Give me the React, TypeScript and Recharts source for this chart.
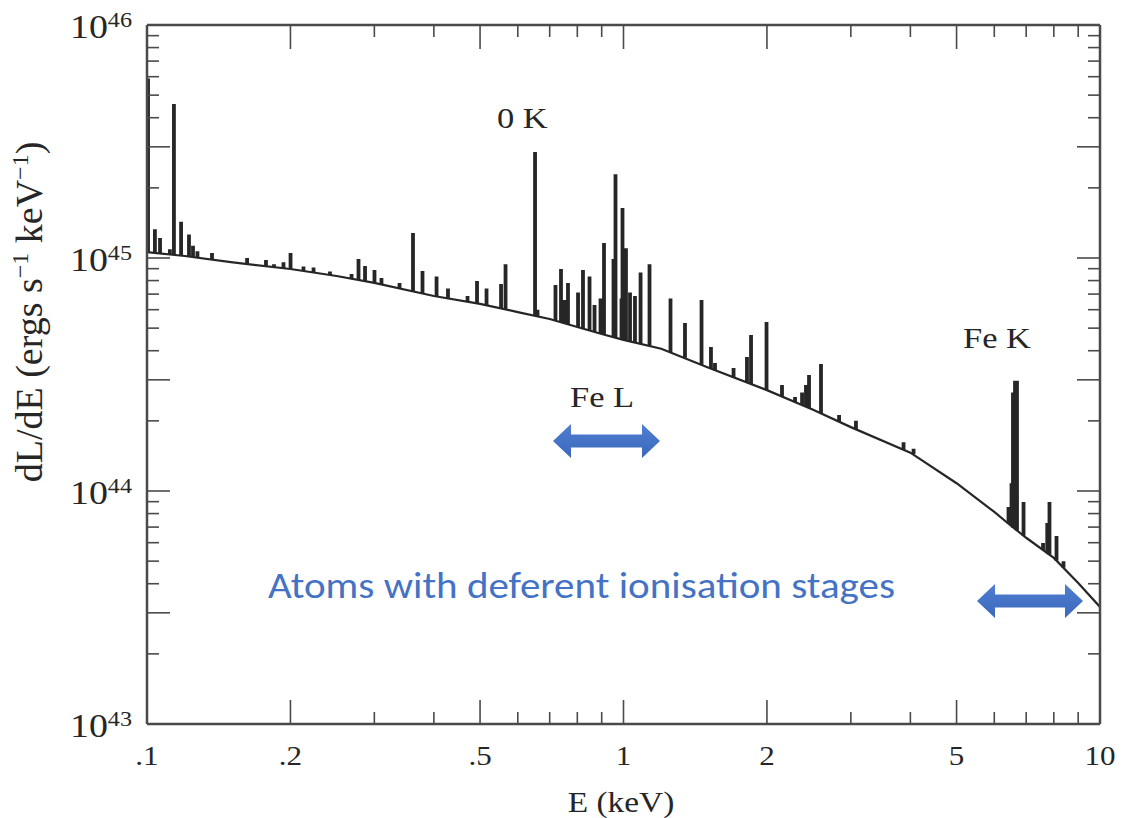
import React from 'react';
import { LineChart, Line, XAxis, YAxis } from 'recharts';

// Continuum level of the spectrum: [E (keV), dL/dE (erg s^-1 keV^-1)]
const continuum: [number, number][] = [
  [0.1, 1.06e45], [0.12, 1.02e45], [0.15, 9.6e44], [0.2, 8.97e44], [0.25, 8.37e44],
  [0.3, 7.82e44], [0.4, 6.87e44], [0.5, 6.35e44], [0.6, 5.86e44], [0.7, 5.47e44],
  [0.8, 5.06e44], [0.9, 4.72e44], [1.0, 4.45e44], [1.2, 4.08e44], [1.5, 3.4e44],
  [2.0, 2.71e44], [2.5, 2.23e44], [3.0, 1.88e44], [4.0, 1.46e44], [5.0, 1.08e44],
  [6.0, 8.13e43], [6.4, 7.29e43], [7.0, 6.3e43], [8.0, 5.16e43], [9.0, 4.03e43],
  [10, 3.18e43],
];

// Emission lines below 0.6 keV: [E (keV), foot level, peak level]
const softLines: [number, number, number][] = [
  [0.1005, 1.06e45, 5.9e45], [0.1039, 1.05e45, 1.33e45], [0.1065, 1.05e45, 1.22e45],
  [0.1117, 1.04e45, 1.09e45], [0.1139, 1.03e45, 4.58e45], [0.1179, 1.02e45, 1.43e45],
  [0.1225, 1.01e45, 1.26e45], [0.1249, 1.01e45, 1.13e45], [0.1276, 1.0e45, 1.07e45],
  [0.1369, 9.85e44, 1.05e45], [0.1622, 9.43e44, 1.0e45], [0.1777, 9.23e44, 9.8e44],
  [0.1847, 9.14e44, 9.4e44], [0.1934, 9.04e44, 9.6e44], [0.2001, 8.97e44, 1.05e45],
  [0.213, 8.8e44, 9.2e44], [0.2236, 8.67e44, 9.1e44], [0.2421, 8.45e44, 8.75e44],
  [0.2687, 8.15e44, 8.54e44], [0.2779, 8.05e44, 9.9e44], [0.2868, 7.95e44, 9.24e44],
  [0.3002, 7.82e44, 8.88e44], [0.3105, 7.7e44, 8.2e44], [0.3388, 7.41e44, 7.82e44],
  [0.3616, 7.2e44, 1.28e45], [0.3786, 7.04e44, 8.8e44], [0.4052, 6.84e44, 8.33e44],
  [0.4282, 6.71e44, 7.4e44], [0.4706, 6.49e44, 6.87e44], [0.4927, 6.37e44, 7.97e44],
  [0.5159, 6.26e44, 7.4e44], [0.5534, 6.08e44, 7.73e44], [0.5655, 6.03e44, 9.4e44],
];

// O K line and the Fe L complex (0.6 - 2 keV)
const feLLines: [number, number, number][] = [
  [0.6522, 5.65e44, 2.85e45], [0.66, 5.6e44, 6.0e44],
  [0.7199, 5.38e44, 7.66e44], [0.7393, 5.3e44, 8.97e44], [0.7519, 5.25e44, 6.6e44],
  [0.7647, 5.19e44, 7.82e44], [0.8028, 5.06e44, 7.11e44], [0.8222, 4.99e44, 8.88e44],
  [0.8486, 4.88e44, 8.33e44], [0.8694, 4.82e44, 6.29e44], [0.8949, 4.74e44, 6.7e44],
  [0.9101, 4.69e44, 1.16e45], [0.9528, 4.57e44, 9.9e44], [0.9621, 4.55e44, 2.29e45],
  [0.9904, 4.48e44, 6.7e44], [0.9952, 4.46e44, 1.64e45], [1.012, 4.43e44, 1.1e45],
  [1.032, 4.39e44, 7.11e44], [1.057, 4.34e44, 6.87e44], [1.086, 4.29e44, 8.67e44],
  [1.134, 4.21e44, 9.4e44], [1.255, 3.95e44, 6.7e44], [1.346, 3.73e44, 5.26e44],
  [1.458, 3.48e44, 6.6e44], [1.526, 3.35e44, 4.15e44], [1.556, 3.3e44, 3.54e44],
  [1.702, 3.07e44, 3.37e44], [1.816, 2.92e44, 3.76e44], [1.852, 2.88e44, 4.67e44],
  [1.996, 2.71e44, 5.31e44],
];

// Lines between 2 keV and 10 keV, including Fe K
const hardLines: [number, number, number][] = [
  [2.151, 2.54e44, 2.85e44], [2.291, 2.41e44, 2.53e44], [2.37, 2.34e44, 2.65e44],
  [2.415, 2.3e44, 2.85e44], [2.451, 2.27e44, 3.15e44], [2.597, 2.15e44, 3.51e44],
  [2.834, 1.98e44, 2.12e44], [3.075, 1.84e44, 2.0e44], [3.87, 1.5e44, 1.62e44],
  [4.062, 1.44e44, 1.52e44],
  [6.427, 7.24e43, 8.54e43], [6.521, 7.07e43, 1.08e44], [6.567, 6.95e43, 2.65e44],
  [6.632, 6.87e43, 2.97e44], [6.696, 6.77e43, 2.97e44], [6.911, 6.42e43, 8.97e43],
  [7.594, 5.58e43, 5.98e43], [7.75, 5.41e43, 7.29e43], [7.834, 5.32e43, 8.97e43],
  [8.105, 5.02e43, 6.41e43], [8.383, 4.68e43, 5.0e43],
];

const xTickValues = [0.1, 0.2, 0.3, 0.4, 0.5, 0.6, 0.7, 0.8, 0.9, 1, 2, 3, 4, 5, 6, 7, 8, 9, 10];
const xMajorTicks = [0.2, 0.5, 1, 2, 5];
const xLabels: [number, string][] = [
  [0.1, '.1'], [0.2, '.2'], [0.5, '.5'], [1, '1'], [2, '2'], [5, '5'], [10, '10'],
];
const yDecades = [43, 44, 45, 46];
const yMantissas = [1, 2, 3, 4, 5, 6, 7, 8, 9];
const yLongMantissas = [1, 3];

const yTickValues: number[] = [];
yDecades.forEach((d) => {
  yMantissas.forEach((m) => {
    const v = m * Math.pow(10, d);
    if (v <= 1e46 * 1.0001) yTickValues.push(v);
  });
});

const continuumData = continuum.map(([E, L]) => ({ E, L }));
const lineData: { E: number; S: number | null }[] = [];
[...softLines, ...feLLines, ...hardLines].forEach(([E, foot, peak]) => {
  lineData.push({ E, S: foot }, { E, S: peak }, { E, S: foot }, { E, S: null });
});

const INK = '#262626';
const AXIS = '#4a4a4a';
const SERIF = "'Liberation Serif', 'Times New Roman', serif";
const STRETCH = 1.15;

function mantissa(v: number) {
  const d = Math.floor(Math.log10(v) + 1e-9);
  return { m: Math.round(v / Math.pow(10, d)), d };
}

const BottomTick = (props: any) => {
  const { x, y, payload } = props;
  const v = payload.value;
  const isEdge = Math.abs(v - 0.1) < 1e-9 || Math.abs(v - 10) < 1e-9;
  const len = isEdge ? 0 : xMajorTicks.some((t) => Math.abs(t - v) < 1e-9) ? 24 : 12;
  const lab = xLabels.find(([t]) => Math.abs(t - v) < 1e-9);
  return (
    <g>
      {len > 0 && <line x1={x} x2={x} y1={y} y2={y - len} stroke={AXIS} strokeWidth={1.6} />}
      {lab && (
        <text
          transform={`translate(${x},${y + 41}) scale(${STRETCH},1)`}
          textAnchor="middle"
          fontFamily={SERIF}
          fontSize={27}
          fill={INK}
        >
          {lab[1]}
        </text>
      )}
    </g>
  );
};

const TopTick = (props: any) => {
  const { x, y, payload } = props;
  const v = payload.value;
  const isEdge = Math.abs(v - 0.1) < 1e-9 || Math.abs(v - 10) < 1e-9;
  if (isEdge) return <g />;
  const len = xMajorTicks.some((t) => Math.abs(t - v) < 1e-9) ? 24 : 12;
  return <line x1={x} x2={x} y1={y} y2={y + len} stroke={AXIS} strokeWidth={1.6} />;
};

const LeftTick = (props: any) => {
  const { x, y, payload } = props;
  const { m, d } = mantissa(payload.value);
  const len = yLongMantissas.includes(m) ? 23 : 12;
  const edge = (d === 43 && m === 1) || d === 46;
  return (
    <g>
      {!edge && <line x1={x} x2={x + len} y1={y} y2={y} stroke={AXIS} strokeWidth={1.6} />}
      {m === 1 && (
        <text
          transform={`translate(${x - 15},${y + 13}) scale(${STRETCH},1)`}
          textAnchor="end"
          fontFamily={SERIF}
          fill={INK}
        >
          <tspan fontSize={33}>10</tspan>
          <tspan fontSize={21} dy={-11}>{String(d)}</tspan>
        </text>
      )}
    </g>
  );
};

const RightTick = (props: any) => {
  const { x, y, payload } = props;
  const { m, d } = mantissa(payload.value);
  const edge = (d === 43 && m === 1) || d === 46;
  if (edge) return <g />;
  const len = yLongMantissas.includes(m) ? 23 : 12;
  return <line x1={x} x2={x - len} y1={y} y2={y} stroke={AXIS} strokeWidth={1.6} />;
};

function Arrow({ x1, x2, cy }: { x1: number; x2: number; cy: number }) {
  const head = 18;
  const hh = 17;
  const sh = 6.5;
  const pts = [
    [x1, cy], [x1 + head, cy - hh], [x1 + head, cy - sh], [x2 - head, cy - sh], [x2 - head, cy - hh],
    [x2, cy], [x2 - head, cy + hh], [x2 - head, cy + sh], [x1 + head, cy + sh], [x1 + head, cy + hh],
  ].map((p) => p.join(',')).join(' ');
  return <polygon points={pts} fill="url(#arrowFill)" />;
}

export default function App() {
  return (
    <div style={{ position: 'relative', width: 1124, height: 818 }}>
      <div style={{ position: 'absolute', left: -8, top: -8, width: 1124, height: 818, background: '#fff' }}>
        <LineChart width={1124} height={818} margin={{ top: 24, right: 23, bottom: 0, left: 0 }}>
          <XAxis
            dataKey="E"
            type="number"
            scale="log"
            domain={[0.1, 10]}
            allowDataOverflow
            ticks={xTickValues}
            interval={0}
            height={94}
            tickSize={0}
            tickMargin={0}
            tickLine={false}
            axisLine={{ stroke: AXIS, strokeWidth: 2.5 }}
            tick={<BottomTick />}
          />
          <XAxis
            xAxisId="top"
            orientation="top"
            dataKey="E"
            type="number"
            scale="log"
            domain={[0.1, 10]}
            allowDataOverflow
            ticks={xTickValues}
            interval={0}
            height={1}
            tickSize={0}
            tickMargin={0}
            tickLine={false}
            axisLine={{ stroke: AXIS, strokeWidth: 2.5 }}
            tick={<TopTick />}
          />
          <YAxis
            type="number"
            scale="log"
            domain={[1e43, 1e46]}
            allowDataOverflow
            ticks={yTickValues}
            interval={0}
            width={147}
            tickSize={0}
            tickMargin={0}
            tickLine={false}
            axisLine={{ stroke: AXIS, strokeWidth: 2.5 }}
            tick={<LeftTick />}
          />
          <YAxis
            yAxisId="right"
            orientation="right"
            type="number"
            scale="log"
            domain={[1e43, 1e46]}
            allowDataOverflow
            ticks={yTickValues}
            interval={0}
            width={1}
            tickSize={0}
            tickMargin={0}
            tickLine={false}
            axisLine={{ stroke: AXIS, strokeWidth: 2.5 }}
            tick={<RightTick />}
          />
          {/* invisible copy of the continuum that ties the mirrored top/right axes to the data */}
          <Line
            xAxisId="top"
            yAxisId="right"
            data={continuumData}
            dataKey="L"
            type="linear"
            stroke="none"
            strokeWidth={0}
            dot={false}
            activeDot={false}
            legendType="none"
            isAnimationActive={false}
          />
          <Line
            data={continuumData}
            dataKey="L"
            type="linear"
            stroke={INK}
            strokeWidth={2.2}
            dot={false}
            activeDot={false}
            connectNulls
            isAnimationActive={false}
          />
          <Line
            data={lineData}
            dataKey="S"
            type="linear"
            stroke={INK}
            strokeWidth={3.8}
            strokeLinejoin="bevel"
            dot={false}
            activeDot={false}
            connectNulls={false}
            isAnimationActive={false}
          />
        </LineChart>
      </div>
      <svg
        width={1124}
        height={818}
        style={{ position: 'absolute', left: -8, top: -8, pointerEvents: 'none' }}
      >
        <defs>
          <linearGradient id="arrowFill" x1="0" y1="0" x2="0" y2="1">
            <stop offset="0" stopColor="#4f7fd2" />
            <stop offset="1" stopColor="#3b68ba" />
          </linearGradient>
        </defs>
        <text
          transform="translate(42,312) rotate(-90)"
          textAnchor="middle"
          fontFamily={SERIF}
          fontSize={38}
          fill={INK}
        >
          dL/dE (ergs s<tspan fontSize={24} dy={-14}>−1</tspan>
          <tspan dy={14}> keV</tspan>
          <tspan fontSize={24} dy={-14}>−1</tspan>
          <tspan dy={14}>)</tspan>
        </text>
        <text transform={`translate(621,812) scale(${STRETCH},1)`} textAnchor="middle" fontFamily={SERIF} fontSize={29} fill={INK}>
          E (keV)
        </text>
        <text transform={`translate(497,128) scale(${STRETCH},1)`} fontFamily={SERIF} fontSize={30} fill={INK}>0 K</text>
        <text transform={`translate(570,407) scale(${STRETCH},1)`} fontFamily={SERIF} fontSize={30} fill={INK}>Fe L</text>
        <text transform={`translate(963,348) scale(${STRETCH},1)`} fontFamily={SERIF} fontSize={30} fill={INK}>Fe K</text>
        <text
          x={268}
          y={598}
          fontFamily="Carlito, Calibri, Lato, 'Open Sans', sans-serif"
          fontSize={36}
          fill="#4472C4"
          textLength={627}
          lengthAdjust="spacingAndGlyphs"
        >
          Atoms with deferent ionisation stages
        </text>
        <Arrow x1={553} x2={660} cy={441} />
        <Arrow x1={977} x2={1083} cy={601} />
      </svg>
    </div>
  );
}
